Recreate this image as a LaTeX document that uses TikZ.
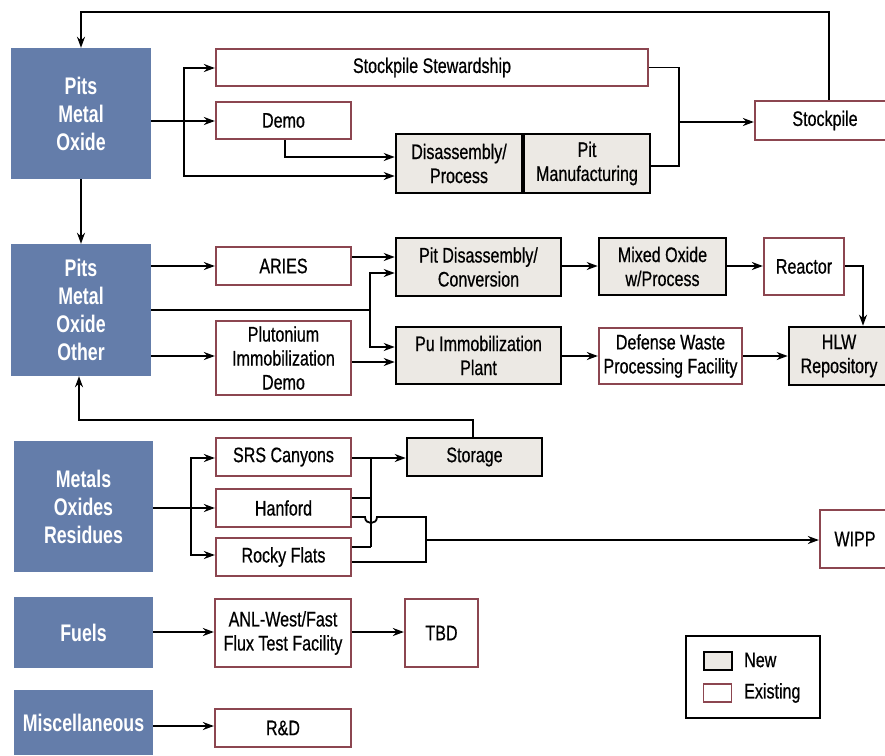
\documentclass[tikz,border=0pt]{standalone}
\usepackage{fontspec}
\setmainfont{Liberation Sans}[FakeStretch=0.765,FakeBold=0.6]
\newfontfamily\bluefont{Liberation Sans}[FakeStretch=0.74]
\usetikzlibrary{arrows.meta}
\definecolor{blu}{RGB}{100,125,170}
\definecolor{exred}{RGB}{140,70,80}
\definecolor{newfill}{RGB}{236,233,228}
\tikzset{
  bluebox/.style={fill=blu, draw=none, text=white, align=center, inner sep=0pt,
    font=\bluefont\bfseries\fontsize{24}{28}\selectfont},
  exbox/.style={draw=exred, line width=2.3pt, fill=white, align=center, inner sep=0pt,
    font=\fontsize{21}{24}\selectfont},
  newbox/.style={draw=black, line width=2.6pt, fill=newfill, align=center, inner sep=0pt,
    font=\fontsize{21}{24}\selectfont},
  arr/.style={-{Stealth[length=11pt,width=8pt]}, line width=1.8pt},
  ln/.style={line width=1.8pt},
  legtext/.style={anchor=west, inner sep=0pt, font=\fontsize{21}{24}\selectfont}
}
\begin{document}
\begin{tikzpicture}[x=1pt,y=-1pt]
\useasboundingbox (0,0) rectangle (885,755);
% blue source boxes
\node[bluebox, minimum width=140, minimum height=131] (pmo) at (81,113.5) {Pits\\Metal\\Oxide};
\node[bluebox, minimum width=140, minimum height=132] (pmoo) at (81,310) {Pits\\Metal\\Oxide\\Other};
\node[bluebox, minimum width=139, minimum height=131] (mor) at (83.5,506.5) {Metals\\Oxides\\Residues};
\node[bluebox, minimum width=139, minimum height=71] (fuels) at (83.5,632.5) {Fuels};
\node[bluebox, minimum width=139, minimum height=65] (misc) at (83.5,722.5) {Miscellaneous};
% existing
\node[exbox, minimum width=432, minimum height=37] (ss) at (432,67.5) {Stockpile Stewardship};
\node[exbox, minimum width=135, minimum height=37] (demo) at (283.5,120.5) {Demo};
\node[exbox, minimum width=140, minimum height=39] (stockpile) at (825,120.5) {Stockpile};
\node[exbox, minimum width=135, minimum height=38] (aries) at (283.5,266) {ARIES};
\node[exbox, minimum width=135, minimum height=74] (pudemo) at (283.5,358) {Plutonium\\Immobilization\\Demo};
\node[exbox, minimum width=80, minimum height=57] (reactor) at (804,266.5) {Reactor};
\node[exbox, minimum width=143, minimum height=56] (dwpf) at (670.5,356) {Defense Waste\\Processing Facility};
\node[exbox, minimum width=135, minimum height=38] (srs) at (283.5,457) {SRS Canyons};
\node[exbox, minimum width=135, minimum height=38] (hanford) at (283.5,508) {Hanford};
\node[exbox, minimum width=135, minimum height=38] (rocky) at (283.5,557) {Rocky Flats};
\node[exbox, minimum width=70, minimum height=58] (wipp) at (855,539) {WIPP};
\node[exbox, minimum width=136, minimum height=68] (anl) at (283,633) {ANL-West/Fast\\Flux Test Facility};
\node[exbox, minimum width=73, minimum height=68] (tbd) at (441.5,633) {TBD};
\node[exbox, minimum width=136, minimum height=38] (rd) at (283,728) {R\&D};
% new
\node[newbox, minimum width=126, minimum height=59] (disproc) at (459,163.5) {Disassembly/\\Process};
\node[newbox, minimum width=126, minimum height=59] (pitman) at (587,163.5) {Pit\\Manufacturing};
\node[newbox, minimum width=165, minimum height=58] (pitdis) at (478.5,267) {Pit Disassembly/\\Conversion};
\node[newbox, minimum width=127, minimum height=57] (mox) at (662.5,266.5) {Mixed Oxide\\w/Process};
\node[newbox, minimum width=165, minimum height=57] (puimm) at (478.5,355.5) {Pu Immobilization\\Plant};
\node[newbox, minimum width=100, minimum height=58] (hlw) at (839,356) {HLW\\Repository};
\node[newbox, minimum width=135, minimum height=38] (storage) at (474.5,457) {Storage};
% legend
\node[draw=black, line width=1.2pt, minimum width=134, minimum height=82, inner sep=0pt] (leg) at (753,677) {};
\node[newbox, line width=2pt, minimum width=28, minimum height=18] (lnew) at (717.5,660.5) {};
\node[exbox, line width=1.8pt, minimum width=28, minimum height=18] (lex) at (717.5,693) {};
\node[legtext] (lnewt) at (744,660) {New};
\node[legtext] (lext) at (744,693) {Existing};
% coordinates
\coordinate (b1) at (184,121);
\coordinate (top1) at (829,12);
\coordinate (j1) at (679,122);
\coordinate (b2) at (370,310);
\coordinate (r1) at (863,266);
\coordinate (s1) at (473,420);
\coordinate (b3) at (191,508);
\coordinate (v1) at (371,458);
\coordinate (h1) at (365,517);
\coordinate (h2) at (377,517);
\coordinate (w1) at (426,540);
% connectors: pits metal oxide
\draw[arr] (pmo.east |- b1) -- (demo.west |- b1);
\draw[arr] (b1) |- (ss.west |- 0,68);
\draw[arr] (b1) |- (disproc.west |- 0,176);
\draw[arr] (demo.south -| 285,0) |- (disproc.west |- 0,157);
\draw[ln] (ss.east) -| (j1) |- (pitman.east |- 0,166);
\draw[arr] (j1) -- (stockpile.west |- j1);
\draw[arr] (stockpile.north -| top1) -- (top1) -| (pmo.north);
\draw[arr] (pmo.south) -- (pmoo.north);
% pits other
\draw[arr] (pmoo.east |- 0,266) -- (aries.west |- 0,266);
\draw[ln] (pmoo.east |- b2) -- (b2);
\draw[arr] (b2) |- (pitdis.west |- 0,273);
\draw[arr] (b2) |- (puimm.west |- 0,347);
\draw[arr] (aries.east |- 0,257) -- (pitdis.west |- 0,257);
\draw[arr] (pmoo.east |- 0,356) -- (pudemo.west |- 0,356);
\draw[arr] (pudemo.east |- 0,362) -- (puimm.west |- 0,362);
\draw[arr] (pitdis.east |- 0,266) -- (mox.west |- 0,266);
\draw[arr] (mox.east |- 0,266) -- (reactor.west |- 0,266);
\draw[arr] (reactor.east |- r1) -| (hlw.north -| r1);
\draw[arr] (puimm.east |- 0,356) -- (dwpf.west |- 0,356);
\draw[arr] (dwpf.east |- 0,356) -- (hlw.west |- 0,356);
\draw[arr] (storage.north -| s1) -- (s1) -| (pmoo.south -| 79,0);
% metals oxides residues
\draw[arr] (mor.east |- b3) -- (hanford.west |- b3);
\draw[arr] (b3) |- (srs.west |- 0,458);
\draw[arr] (b3) |- (rocky.west |- 0,555);
\draw[arr] (srs.east |- v1) -- (storage.west |- v1);
\draw[ln] (v1) -- (371,547);
\draw[ln] (hanford.east |- 0,498) -- (371,498);
\draw[ln] (rocky.east |- 0,547) -- (371,547);
\draw[ln] (hanford.east |- h1) -- (h1) .. controls (365,525) and (377,525) .. (h2) -- (426,517) -- (426,562) -- (rocky.east |- 0,562);
\draw[arr] (w1) -- (wipp.west |- w1);
% fuels, misc
\draw[arr] (fuels.east |- 0,632) -- (anl.west |- 0,632);
\draw[arr] (anl.east |- 0,632) -- (tbd.west |- 0,632);
\draw[arr] (misc.east |- 0,726) -- (rd.west |- 0,726);
\end{tikzpicture}
\end{document}
